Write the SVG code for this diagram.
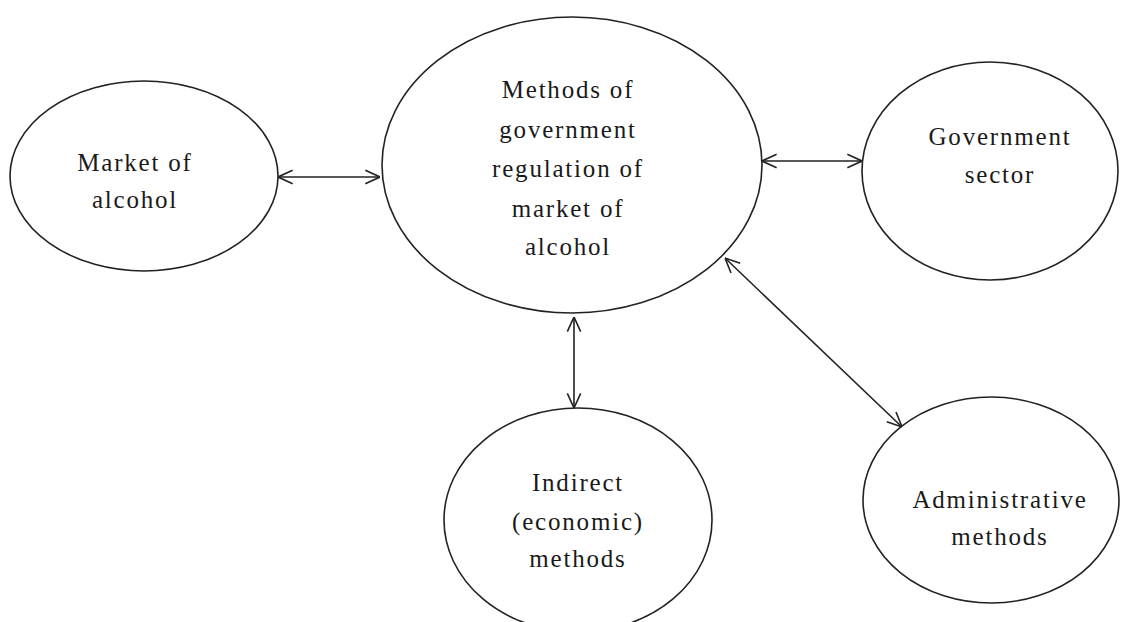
<svg xmlns="http://www.w3.org/2000/svg" width="1122" height="622" viewBox="0 0 1122 622">
<style>
.node ellipse{fill:#fff;stroke:#222;stroke-width:1.6}
.node text{font-family:'Liberation Serif','Times New Roman',serif;font-size:25px;fill:#1a1a1a;text-anchor:middle;letter-spacing:1.8px}
.conn line{stroke:#222;stroke-width:1.6;fill:none}
</style>
<defs>
<marker id="ah" viewBox="0 0 12 12" refX="12" refY="6" markerWidth="16" markerHeight="16" markerUnits="userSpaceOnUse" orient="auto-start-reverse">
<path d="M1,1 L12,6 L1,11" fill="none" stroke="#222" stroke-width="1.2"/>
</marker>
</defs>
<rect width="1122" height="622" fill="#fff"/>
<g id="market" class="node">
<ellipse cx="144" cy="176" rx="134" ry="95"/>
<text x="135" y="171">Market of</text>
<text x="135" y="208">alcohol</text>
</g>
<g id="methods" class="node">
<ellipse cx="572" cy="165" rx="190" ry="148"/>
<text x="568" y="98">Methods of</text>
<text x="568" y="138">government</text>
<text x="568" y="177">regulation of</text>
<text x="568" y="217">market of</text>
<text x="568" y="255">alcohol</text>
</g>
<g id="government" class="node">
<ellipse cx="990" cy="171" rx="128" ry="109"/>
<text x="1000" y="145">Government</text>
<text x="1000" y="183">sector</text>
</g>
<g id="indirect" class="node">
<ellipse cx="578" cy="520" rx="134" ry="112"/>
<text x="578" y="491">Indirect</text>
<text x="578" y="530">(economic)</text>
<text x="578" y="567">methods</text>
</g>
<g id="administrative" class="node">
<ellipse cx="991" cy="500" rx="128" ry="103"/>
<text x="1000" y="508">Administrative</text>
<text x="1000" y="545">methods</text>
</g>
<g id="connectors" class="conn">
<line x1="278" y1="177" x2="380" y2="177" marker-start="url(#ah)" marker-end="url(#ah)"/>
<line x1="762" y1="161" x2="862" y2="161" marker-start="url(#ah)" marker-end="url(#ah)"/>
<line x1="574" y1="317" x2="574" y2="408" marker-start="url(#ah)" marker-end="url(#ah)"/>
<line x1="725" y1="258" x2="902" y2="427" marker-start="url(#ah)" marker-end="url(#ah)"/>
</g>
</svg>
